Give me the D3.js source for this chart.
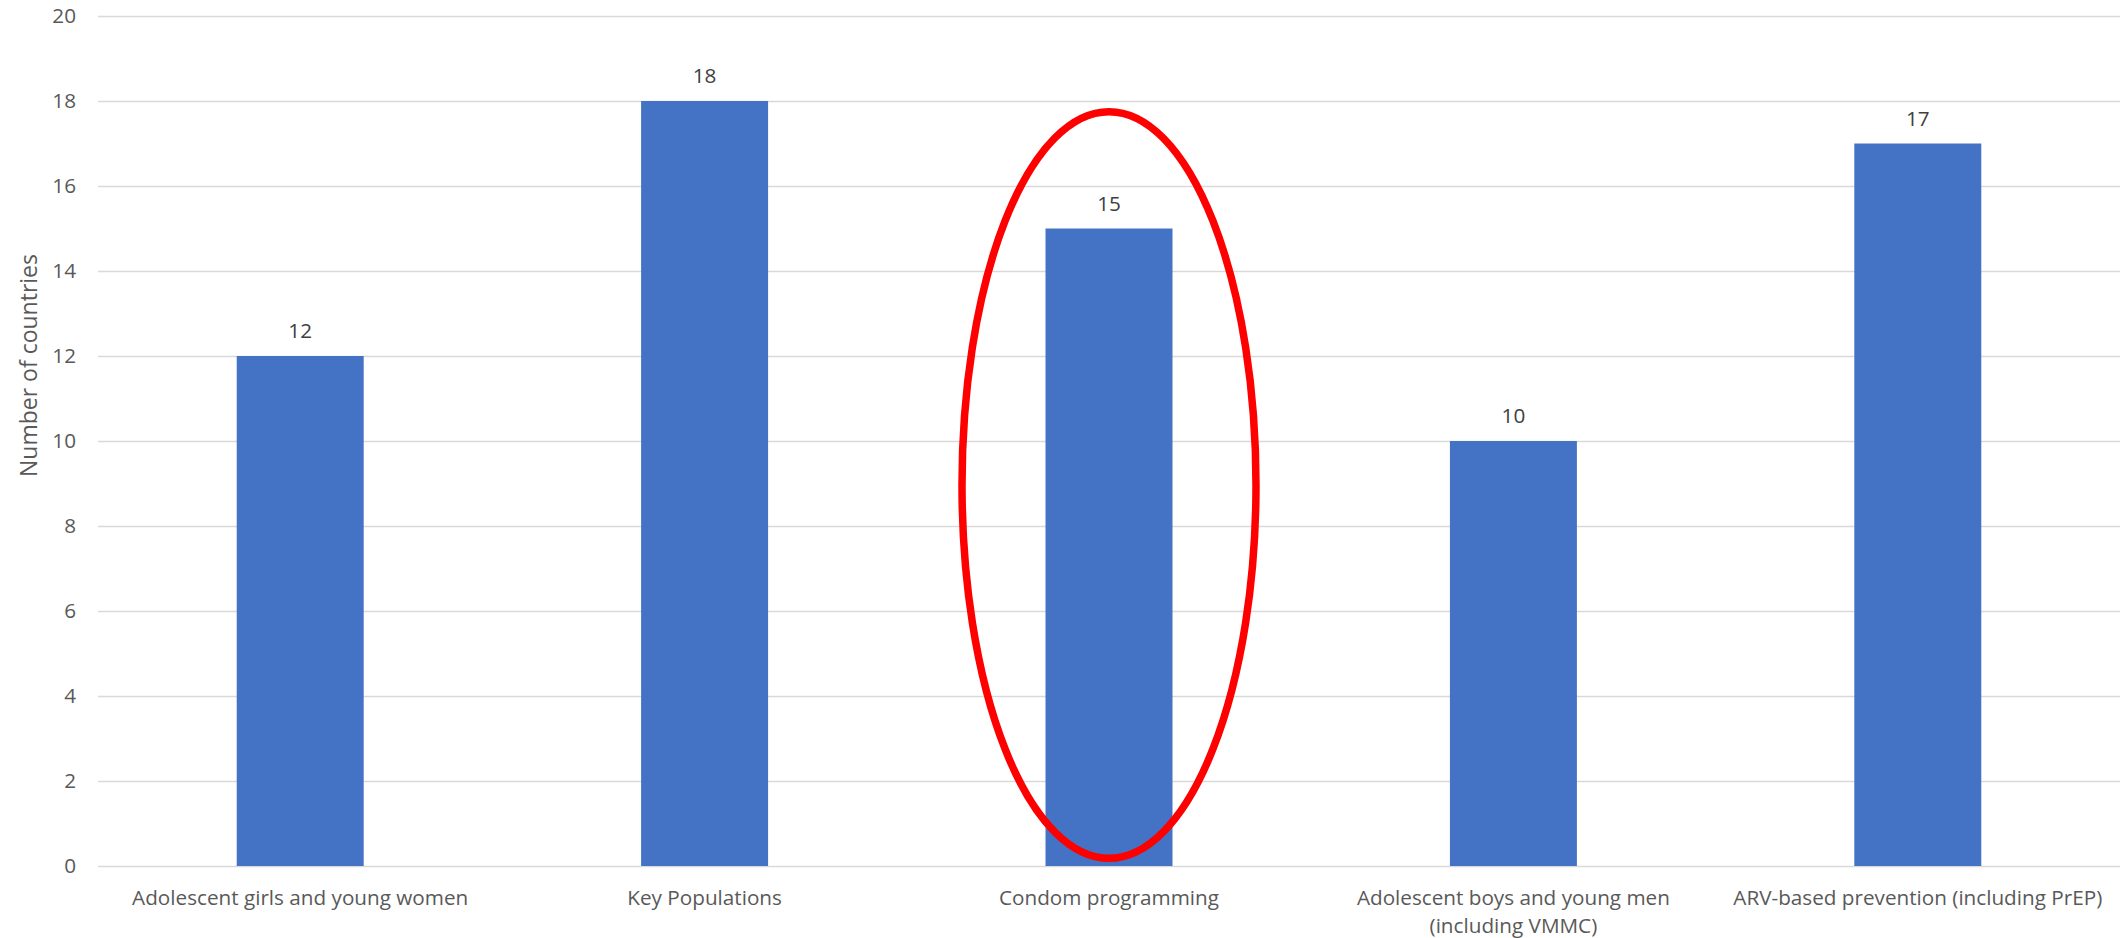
<!DOCTYPE html>
<html>
<head>
<meta charset="utf-8">
<script src="https://cdn.jsdelivr.net/npm/d3@7"></script>
<style>
  html, body { margin: 0; padding: 0; background: #fff; }
  svg { display: block; }
</style>
</head>
<body>
<svg id="chart" width="2124" height="938"></svg>
<script>
// ---- data ----
const categories = [
  "Adolescent girls and young women",
  "Key Populations",
  "Condom programming",
  "Adolescent boys and young men (including VMMC)",
  "ARV-based prevention (including PrEP)"
];
const values = [12, 18, 15, 10, 17];
const yTicks = [0, 2, 4, 6, 8, 10, 12, 14, 16, 18, 20];
const yTitle = "Number of countries";
// highlight annotation (in data units)
const highlightCategory = ["Condom programming"];
const highlightRange = [0.18, 17.75];

// ---- layout ----
const W = 2124, H = 938;
const margin = { top: 16, right: 4, bottom: 72, left: 98 };
const iw = W - margin.left - margin.right;
const ih = H - margin.top - margin.bottom;
const FONT = "'Open Sans', 'Noto Sans', sans-serif";

const svg = d3.select("#chart");
const g = svg.append("g").attr("transform", `translate(${margin.left},${margin.top})`);

const x = d3.scaleBand().domain(categories).range([0, iw])
  .paddingInner(0.686).paddingOuter(0.343);
const y = d3.scaleLinear().domain([0, 20]).range([ih, 0]);

// gridlines + y tick labels
const yAxis = g.append("g")
  .call(d3.axisLeft(y).tickValues(yTicks).tickSize(-iw).tickFormat(d3.format("d")));
yAxis.select(".domain").remove();
yAxis.selectAll(".tick line").attr("stroke", "#d9d9d9").attr("stroke-width", 1.5);
yAxis.selectAll(".tick text")
  .attr("x", -22)
  .attr("fill", "#595959")
  .style("font-family", FONT)
  .style("font-size", "20.7px");

// bars
g.selectAll("rect.bar").data(values).join("rect")
  .attr("class", "bar")
  .attr("x", (d, i) => x(categories[i]))
  .attr("width", x.bandwidth())
  .attr("y", d => y(d))
  .attr("height", d => y(0) - y(d))
  .attr("fill", "#4472C4");

// value labels
g.selectAll("text.val").data(values).join("text")
  .attr("class", "val")
  .attr("x", (d, i) => x(categories[i]) + x.bandwidth() / 2)
  .attr("y", d => y(d) - 18)
  .attr("text-anchor", "middle")
  .attr("fill", "#404040")
  .style("font-family", FONT)
  .style("font-size", "20.7px")
  .text(d => d);

// x category labels (wrapped)
const maxW = x.step();
const xl = g.append("g").attr("transform", `translate(0,${ih + 39})`);
categories.forEach(c => {
  const t = xl.append("text")
    .attr("x", x(c) + x.bandwidth() / 2)
    .attr("text-anchor", "middle")
    .attr("fill", "#595959")
    .style("font-family", FONT)
    .style("font-size", "20.7px");
  const words = c.split(" ");
  let line = [];
  let ts = t.append("tspan").attr("x", x(c) + x.bandwidth() / 2).attr("dy", 0);
  words.forEach(w => {
    line.push(w);
    ts.text(line.join(" "));
    if (ts.node().getComputedTextLength() > maxW && line.length > 1) {
      line.pop();
      ts.text(line.join(" "));
      line = [w];
      ts = t.append("tspan").attr("x", x(c) + x.bandwidth() / 2).attr("dy", 28).text(w);
    }
  });
});

// y axis title
svg.append("text")
  .attr("transform", `translate(37,477) rotate(-90)`)
  .attr("text-anchor", "start")
  .attr("fill", "#595959")
  .style("font-family", FONT)
  .style("font-size", "23px")
  .text(yTitle);

// highlight ellipse
highlightCategory.forEach(c => {
  const cx = x(c) + x.bandwidth() / 2;
  const cy = (y(highlightRange[0]) + y(highlightRange[1])) / 2;
  const ry = (y(highlightRange[0]) - y(highlightRange[1])) / 2;
  const rx = x.step() * 0.3635;
  g.append("ellipse")
    .attr("cx", cx).attr("cy", cy).attr("rx", rx).attr("ry", ry)
    .attr("fill", "none").attr("stroke", "#FF0000").attr("stroke-width", 7.5);
});
</script>
</body>
</html>
